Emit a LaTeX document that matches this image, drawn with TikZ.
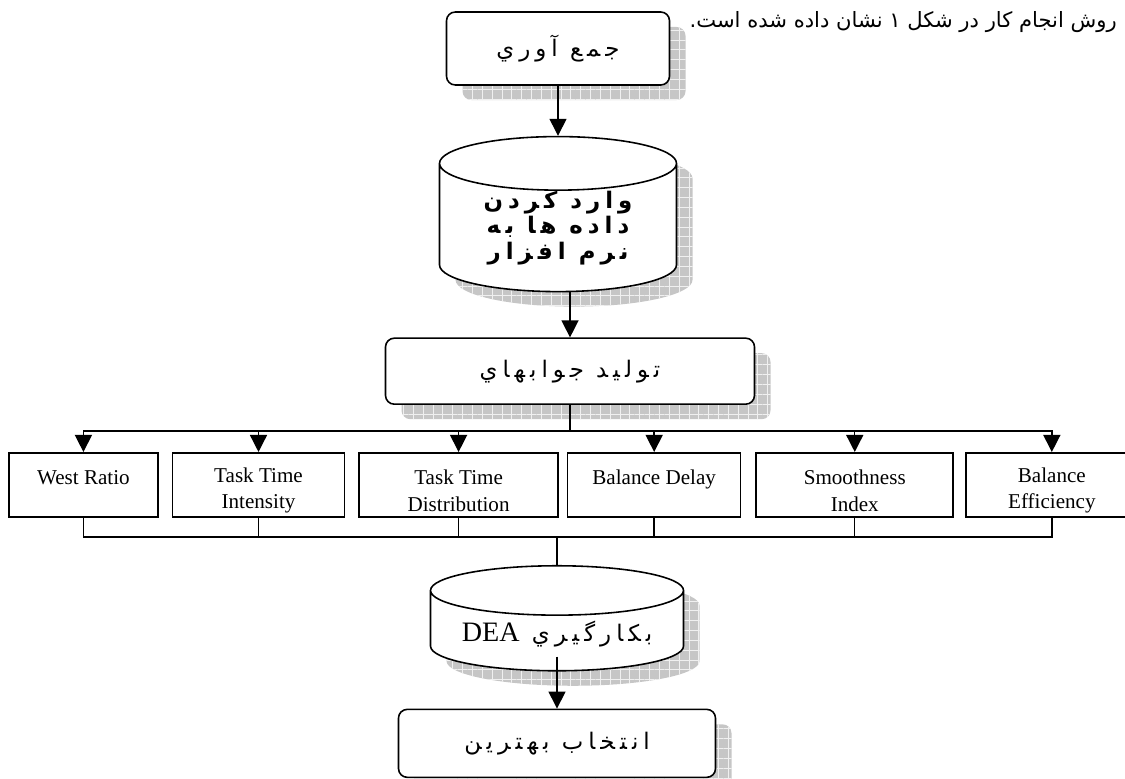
\documentclass[tikz,border=0pt]{standalone}
\usepackage{fontspec}
\setmainfont{Liberation Serif}
\newfontfamily\fatext[Script=Arabic]{DejaVu Sans}
\newfontfamily\fabox[Script=Arabic,LetterSpace=22]{DejaVu Sans}
\TeXXeTstate=1
\usepackage{tikz}
\usetikzlibrary{shapes.geometric, arrows.meta, positioning, patterns.meta}
\newcommand{\lift}{\rule{0pt}{15pt}}
\tikzstyle{shadowed} = [preaction={fill=gray!45, transform canvas={shift={(0.32cm,-0.3cm)}}}, preaction={pattern={Lines[distance=5.6pt, line width=0.4pt]}, pattern color=gray!12, transform canvas={shift={(0.32cm,-0.3cm)}}}, preaction={pattern={Lines[angle=90, distance=5.6pt, line width=0.4pt]}, pattern color=gray!12, transform canvas={shift={(0.32cm,-0.3cm)}}}]
\tikzstyle{stage} = [rectangle, rounded corners=5pt, draw, line width=0.9pt, fill=white, shadowed, font=\fabox\fontsize{13}{16}\selectfont, inner sep=2pt]
\tikzstyle{datastore} = [cylinder, shape border rotate=90, draw, line width=0.9pt, fill=white, shadowed, font=\fabox\fontsize{13}{16}\selectfont, align=center, inner sep=2pt]
\tikzstyle{measure} = [rectangle, draw, line width=0.9pt, fill=white, minimum height=1.28cm, align=center, font=\fontsize{12}{15}\selectfont, inner sep=0.5pt]
\tikzstyle{arrow} = [-{Triangle[length=0.34cm, width=0.34cm]}, line width=0.8pt]
\tikzstyle{link} = [line width=0.8pt]

\begin{document}
\begin{tikzpicture}
    \useasboundingbox (0,0) rectangle (22.5,-15.56);
    % Nodes
    \node[stage, minimum width=4.46cm, minimum height=1.46cm] (collect) at (11.16,-0.97) {\beginR جمع آوري\endR};
    \node[font=\fatext\fontsize{12}{14}\selectfont, inner sep=0pt, right=0.38cm of collect.north east, anchor=north west] (intro) {\beginR روش انجام كار در شكل ۱ نشان داده شده است.\endR};
    \node[datastore, font=\fabox\bfseries\fontsize{13}{14.5}\selectfont, inner sep=0pt, minimum width=4.74cm, minimum height=2.7cm, aspect=0.36, below=1.0cm of collect] (input) {\beginR وارد كردن\endR\\\beginR داده ها به\endR\\\beginR نرم افزار\endR};
    \node[stage, minimum width=7.38cm, minimum height=1.32cm, below=0.9cm of input, xshift=0.24cm] (generate) {\beginR توليد جوابهاي\endR};

    \node[measure, minimum width=2.98cm, below left=0.94cm and 4.52cm of generate] (westratio) {\lift West Ratio\\\mbox{}};
    \node[measure, minimum width=3.44cm, right=0.26cm of westratio] (intensity) {\lift Task Time\\Intensity};
    \node[measure, minimum width=3.98cm, right=0.26cm of intensity] (distribution) {\lift Task Time\\Distribution};
    \node[measure, minimum width=3.46cm, right=0.16cm of distribution] (delay) {\lift Balance Delay\\\mbox{}};
    \node[measure, minimum width=3.94cm, right=0.28cm of delay] (smoothness) {\lift Smoothness\\Index};
    \node[measure, minimum width=3.44cm, right=0.22cm of smoothness] (efficiency) {\lift Balance\\Efficiency};

    \node[datastore, minimum width=5.06cm, minimum height=2.1cm, aspect=0.25, below=3.2cm of generate, xshift=-0.26cm] (dea) {\beginR بكارگيري \beginL{\rmfamily\fontsize{16}{18}\selectfont DEA}\endL\endR};
    \node[stage, minimum width=6.34cm, minimum height=1.36cm, below=0.74cm of dea] (best) {\beginR انتخاب بهترين\endR};

    % Arrows
    \draw[arrow] (collect) -- (input);
    \draw[arrow] (input.south -| generate.north) -- (generate.north);
    \draw[link] (generate.south) -- ++(0,-0.52) coordinate (splitbus);
    \foreach \m in {westratio, intensity, distribution, delay, smoothness, efficiency}
        \draw[arrow] (splitbus) -| (\m.north);
    \draw[link] (dea.north) -- ++(0,0.56) coordinate (joinbus);
    \foreach \m in {westratio, intensity, distribution, delay, smoothness, efficiency}
        \draw[link] (\m.south) |- (joinbus);
    \draw[arrow] ([yshift=0.3cm]dea.south) -- (best.north);
\end{tikzpicture}
\end{document}
